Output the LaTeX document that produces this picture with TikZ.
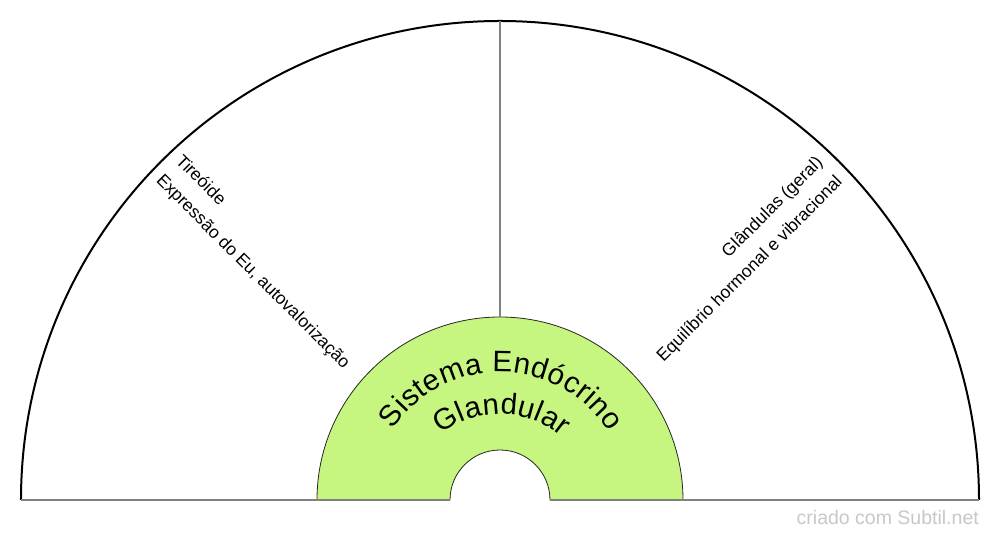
\documentclass[tikz,border=0pt]{standalone}
\usepackage{fontspec}
\setmainfont{Liberation Sans}
\definecolor{gfill}{RGB}{198,246,127}
\definecolor{wmark}{RGB}{200,200,200}
\newcommand\cfont{\fontsize{29.5}{34}\selectfont}
\begin{document}
\begin{tikzpicture}[x=1pt,y=1pt,
  radtext/.style={inner sep=0pt, font=\fontsize{17.5}{27.5}\selectfont},
  baseln/.style={draw=gray, line width=2pt},
  outerarc/.style={draw=black, line width=2pt},
  annulus/.style={fill=gfill, draw=black!85, line width=0.8pt},
  arcletter/.style={inner sep=0pt, font=\cfont, anchor=base}]
\useasboundingbox (-500pt,-40pt) rectangle (500pt,500pt);
\fill[white] (-500pt,-40pt) rectangle (500pt,500pt);
% green annulus
\path[annulus] (-183pt,0pt) arc[start angle=180, end angle=0, radius=183pt] -- (50pt,0pt) arc[start angle=0, end angle=180, radius=50pt] -- cycle;
% outer arc
\draw[outerarc] (-479pt,0pt) arc[start angle=180, end angle=0, radius=479pt];
% base line
\coordinate (bl) at (-479pt,0pt);
\coordinate (bi) at (-50pt,0pt);
\coordinate (ci) at (50pt,0pt);
\coordinate (cr) at (479pt,0pt);
\draw[baseln] (bl) -- (bi);
\draw[baseln] (ci) -- (cr);
% divider
\coordinate (vt) at (0pt,479pt);
\coordinate (vb) at (0pt,183pt);
\draw[baseln] (vt) -- (vb);
% radial texts
\node[radtext, rotate=-45, anchor=west, align=left] (tl) at (135:469pt) {Tireóide\\Expressão do Eu, autovalorização};
\node[radtext, rotate=45, anchor=east, align=right] (tr) at (45:467pt) {Glândulas (geral)\\Equilíbrio hormonal e vibracional};
% curved center text: Sistema Endócrino (radius 128, from 146.8 deg)
\gdef\sglob{0}
\foreach \ch/\w [count=\i] in {S/667,i/222,s/500,t/278,e/556,m/833,a/556,{}/278,E/667,n/556,d/556,ó/556,c/500,r/333,i/222,n/556,o/556} {
  \pgfmathsetmacro\wpt{\w/1000*29.5}
  \pgfmathsetmacro\ang{146.8-(\sglob+\wpt/2)/128*57.29578}
  \node[arcletter, rotate=\ang-90] (sa\i) at (\ang:128pt) {\ch};
  \pgfmathsetmacro\snew{\sglob+\wpt+0.57}
  \xdef\sglob{\snew}
}
% Glandular (centre 0,-10, radius 96, from 128 deg)
\gdef\sglob{0}
\foreach \ch/\w [count=\i] in {G/778,l/222,a/556,n/556,d/556,u/556,l/222,a/556,r/333} {
  \pgfmathsetmacro\wpt{\w/1000*29.5}
  \pgfmathsetmacro\ang{128-(\sglob+\wpt/2)/96*57.29578}
  \node[arcletter, rotate=\ang-90] (gl\i) at ([shift={(0pt,-10pt)}]\ang:96pt) {\ch};
  \pgfmathsetmacro\snew{\sglob+\wpt+0.35}
  \xdef\sglob{\snew}
}
% watermark
\node[anchor=base east, inner sep=0pt, text=wmark, font=\fontsize{19.5}{22}\selectfont] (wm) at (479pt,-25pt) {criado com Subtil.net};
\end{tikzpicture}
\end{document}
